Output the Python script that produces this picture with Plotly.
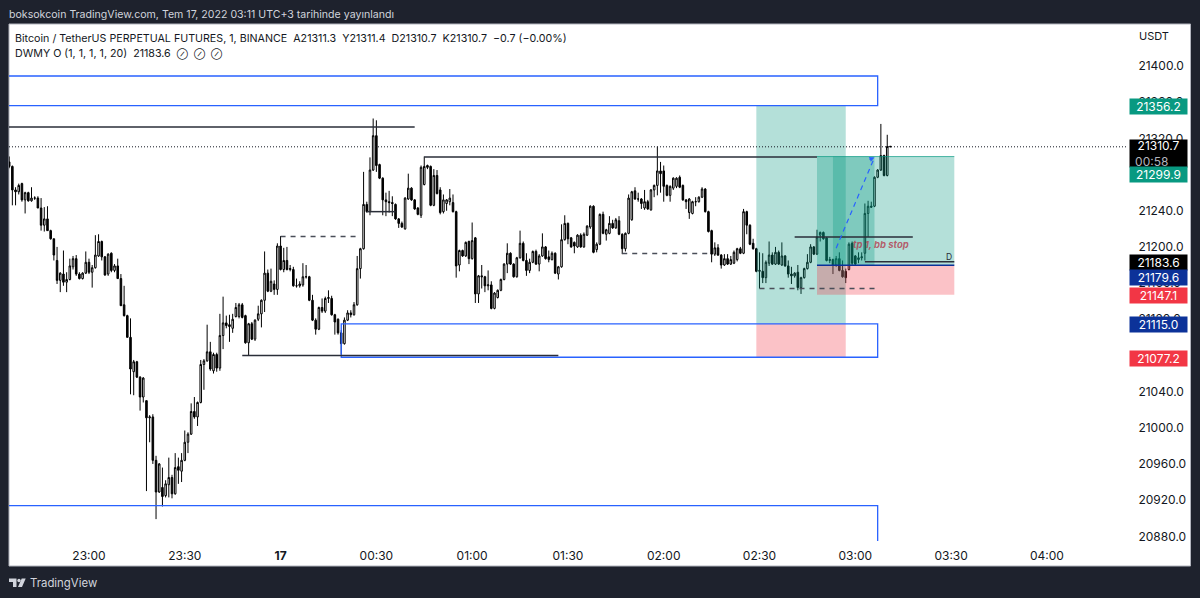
"""BTCUSDT perpetual 1 minute chart with price zones, TradingView look."""
import pandas as pd
import plotly.graph_objects as go

OPEN = [
    21294, 21289, 21263, 21261, 21270, 21252, 21260, 21251, 21254, 21254,
    21243, 21224, 21231, 21218, 21209, 21185, 21163, 21170, 21161, 21164,
    21178, 21187, 21170, 21165, 21171, 21183, 21172, 21177, 21190, 21206,
    21189, 21170, 21193, 21174, 21179, 21165, 21136, 21124, 21100, 21062,
    21073, 21056, 21034, 21030, 21011, 21012, 20964, 20929, 20934, 20925,
    20937, 20945, 20927, 20957, 20952, 20964, 20984, 20993, 21018, 21012,
    21028, 21070, 21074, 21084, 21063, 21081, 21066, 21102, 21116, 21114,
    21110, 21123, 21123, 21136, 21124, 21094, 21115, 21098, 21120, 21126,
    21141, 21171, 21151, 21159, 21153, 21201, 21175, 21185, 21175, 21175,
    21157, 21157, 21158, 21167, 21167, 21141, 21119, 21109, 21133, 21129,
    21143, 21143, 21125, 21120, 21105, 21093, 21119, 21127, 21125, 21136,
    21176, 21198, 21247, 21239, 21285, 21323, 21291, 21276, 21252, 21250,
    21249, 21247, 21231, 21226, 21220, 21253, 21265, 21252, 21243, 21235,
    21269, 21290, 21289, 21246, 21279, 21263, 21239, 21248, 21250, 21249,
    21239, 21180, 21196, 21190, 21206, 21187, 21210, 21148, 21168, 21167,
    21157, 21158, 21132, 21144, 21152, 21164, 21181, 21193, 21181, 21167,
    21188, 21204, 21185, 21174, 21183, 21195, 21181, 21190, 21200, 21189,
    21186, 21193, 21170, 21178, 21208, 21226, 21210, 21205, 21200, 21213,
    21200, 21213, 21222, 21245, 21197, 21203, 21236, 21214, 21215, 21226,
    21221, 21229, 21214, 21198, 21215, 21230, 21262, 21253, 21253, 21243,
    21250, 21241, 21263, 21268, 21284, 21284, 21268, 21257, 21265, 21267,
    21277, 21268, 21252, 21238, 21237, 21250, 21250, 21255, 21264, 21239,
    21218, 21192, 21199, 21191, 21180, 21187, 21181, 21182, 21186, 21198,
    21193, 21239, 21224, 21204, 21198, 21173, 21173, 21166, 21182, 21191,
    21181, 21194, 21180, 21190, 21179, 21170, 21168, 21172, 21155, 21166,
    21176, 21183, 21200, 21192, 21213, 21216, 21210, 21185, 21186, 21180,
    21187, 21174, 21173, 21175, 21204, 21190, 21186, 21188, 21193, 21237,
    21245, 21245, 21277, 21285, 21301, 21279, 21311.3,
]
HIGH = [
    21300, 21290, 21266, 21270, 21271, 21261, 21261, 21266, 21256, 21256,
    21254, 21244, 21245, 21219, 21209, 21200, 21172, 21196, 21172, 21187,
    21190, 21191, 21172, 21172, 21195, 21187, 21180, 21213, 21214, 21207,
    21190, 21193, 21194, 21181, 21187, 21170, 21157, 21125, 21121, 21075,
    21074, 21057, 21056, 21030, 21014, 21015, 20969, 20961, 20956, 20942,
    20967, 20948, 20972, 20967, 20972, 20997, 20995, 21027, 21034, 21029,
    21075, 21076, 21114, 21095, 21083, 21083, 21126, 21145, 21124, 21125,
    21126, 21138, 21138, 21138, 21125, 21116, 21117, 21120, 21135, 21142,
    21195, 21175, 21176, 21163, 21204, 21212, 21199, 21200, 21180, 21178,
    21165, 21162, 21182, 21180, 21168, 21147, 21121, 21134, 21143, 21145,
    21152, 21146, 21126, 21121, 21108, 21122, 21130, 21130, 21139, 21190,
    21199, 21283, 21250, 21299, 21342, 21340, 21292, 21277, 21260, 21262,
    21256, 21248, 21232, 21228, 21255, 21281, 21266, 21253, 21244, 21290,
    21300, 21291, 21290, 21286, 21285, 21266, 21258, 21253, 21264, 21258,
    21240, 21197, 21197, 21206, 21207, 21227, 21211, 21169, 21180, 21168,
    21174, 21162, 21150, 21153, 21165, 21182, 21204, 21194, 21182, 21189,
    21218, 21206, 21193, 21187, 21196, 21197, 21192, 21215, 21201, 21196,
    21195, 21194, 21179, 21225, 21235, 21227, 21211, 21206, 21214, 21215,
    21216, 21224, 21246, 21246, 21205, 21237, 21239, 21220, 21234, 21230,
    21232, 21234, 21215, 21216, 21258, 21262, 21266, 21260, 21254, 21263,
    21252, 21264, 21269, 21311, 21294, 21290, 21269, 21268, 21277, 21277,
    21279, 21269, 21253, 21254, 21251, 21255, 21256, 21266, 21265, 21240,
    21219, 21205, 21203, 21192, 21192, 21192, 21190, 21196, 21199, 21200,
    21242, 21240, 21225, 21209, 21199, 21194, 21193, 21185, 21206, 21194,
    21200, 21196, 21205, 21191, 21185, 21178, 21172, 21180, 21167, 21177,
    21192, 21203, 21201, 21219, 21217, 21217, 21211, 21189, 21187, 21190,
    21194, 21185, 21176, 21205, 21206, 21191, 21194, 21194, 21248, 21251,
    21250, 21278, 21286, 21336, 21302, 21324, 21311.4,
]
LOW = [
    21287, 21246, 21246, 21258, 21250, 21237, 21250, 21250, 21252, 21243,
    21218, 21217, 21218, 21208, 21185, 21159, 21150, 21157, 21150, 21163,
    21175, 21168, 21164, 21164, 21170, 21170, 21155, 21176, 21189, 21185,
    21168, 21168, 21172, 21172, 21165, 21135, 21123, 21100, 21037, 21036,
    21055, 21019, 21028, 20930, 20984, 20960, 20899, 20928, 20913, 20923,
    20923, 20922, 20926, 20938, 20940, 20963, 20972, 20992, 21010, 21002,
    21027, 21042, 21073, 21063, 21060, 21062, 21063, 21087, 21110, 21095,
    21105, 21122, 21121, 21121, 21093, 21080, 21097, 21096, 21118, 21111,
    21128, 21150, 21150, 21147, 21147, 21174, 21172, 21174, 21173, 21156,
    21155, 21155, 21156, 21165, 21140, 21118, 21103, 21108, 21127, 21127,
    21138, 21124, 21103, 21103, 21081, 21092, 21118, 21122, 21124, 21135,
    21165, 21197, 21238, 21235, 21284, 21283, 21275, 21235, 21234, 21238,
    21234, 21230, 21221, 21221, 21219, 21252, 21251, 21241, 21235, 21232,
    21268, 21286, 21245, 21245, 21258, 21236, 21237, 21240, 21246, 21238,
    21166, 21173, 21189, 21189, 21181, 21186, 21138, 21138, 21154, 21150,
    21152, 21131, 21131, 21143, 21151, 21163, 21171, 21180, 21166, 21166,
    21187, 21184, 21168, 21171, 21182, 21180, 21173, 21189, 21186, 21183,
    21185, 21170, 21164, 21177, 21207, 21203, 21199, 21193, 21199, 21199,
    21199, 21212, 21220, 21193, 21194, 21202, 21214, 21207, 21214, 21220,
    21220, 21213, 21192, 21195, 21214, 21229, 21252, 21250, 21242, 21241,
    21241, 21240, 21255, 21257, 21260, 21250, 21256, 21250, 21263, 21265,
    21265, 21251, 21242, 21231, 21236, 21245, 21249, 21254, 21238, 21216,
    21183, 21190, 21190, 21176, 21179, 21180, 21180, 21181, 21184, 21192,
    21192, 21214, 21202, 21197, 21172, 21154, 21160, 21160, 21179, 21180,
    21180, 21180, 21179, 21178, 21166, 21159, 21166, 21152, 21148, 21165,
    21175, 21182, 21191, 21191, 21206, 21208, 21184, 21182, 21170, 21178,
    21173, 21166, 21160, 21174, 21180, 21180, 21182, 21185, 21185, 21211,
    21243, 21244, 21276, 21284, 21278, 21278, 21310.7,
]
CLOSE = [
    21289, 21263, 21261, 21268, 21252, 21260, 21251, 21254, 21254, 21243,
    21224, 21231, 21218, 21209, 21191, 21163, 21171, 21161, 21164, 21179,
    21187, 21170, 21165, 21171, 21183, 21172, 21177, 21191, 21206, 21189,
    21169, 21192, 21174, 21179, 21165, 21135, 21124, 21100, 21065, 21073,
    21056, 21034, 21055, 21011, 21012, 20964, 20929, 20960, 20924, 20938,
    20945, 20927, 20956, 20953, 20964, 20984, 20993, 21018, 21012, 21028,
    21070, 21074, 21084, 21065, 21081, 21066, 21102, 21116, 21113, 21112,
    21120, 21133, 21136, 21122, 21094, 21115, 21098, 21119, 21126, 21141,
    21171, 21151, 21162, 21153, 21201, 21175, 21185, 21175, 21176, 21157,
    21157, 21159, 21167, 21167, 21141, 21119, 21109, 21133, 21129, 21143,
    21144, 21125, 21117, 21105, 21093, 21119, 21127, 21125, 21136, 21176,
    21198, 21247, 21239, 21285, 21323, 21290, 21276, 21252, 21250, 21249,
    21248, 21231, 21226, 21222, 21254, 21265, 21252, 21242, 21236, 21288,
    21289, 21288, 21246, 21279, 21259, 21238, 21252, 21252, 21254, 21239,
    21179, 21196, 21190, 21205, 21187, 21207, 21148, 21168, 21167, 21157,
    21158, 21132, 21149, 21152, 21164, 21181, 21193, 21181, 21167, 21188,
    21204, 21185, 21174, 21183, 21195, 21181, 21190, 21200, 21187, 21186,
    21193, 21171, 21178, 21208, 21226, 21209, 21200, 21201, 21213, 21200,
    21214, 21223, 21245, 21194, 21203, 21236, 21215, 21219, 21226, 21221,
    21230, 21214, 21198, 21215, 21254, 21261, 21253, 21253, 21248, 21250,
    21242, 21263, 21268, 21284, 21281, 21267, 21257, 21267, 21276, 21276,
    21266, 21252, 21250, 21253, 21250, 21250, 21255, 21264, 21239, 21217,
    21192, 21199, 21191, 21180, 21187, 21181, 21186, 21194, 21198, 21193,
    21239, 21224, 21203, 21198, 21173, 21174, 21166, 21183, 21191, 21181,
    21194, 21181, 21190, 21179, 21170, 21168, 21171, 21155, 21166, 21176,
    21183, 21200, 21192, 21211, 21216, 21209, 21185, 21186, 21180, 21187,
    21174, 21167, 21166, 21203, 21182, 21181, 21188, 21189, 21237, 21245,
    21244, 21277, 21285, 21301, 21279, 21311, 21310.7,
]

TICK_TIMES = ["23:00", "23:30", "00:00", "00:30", "01:00", "01:30", "02:00",
              "02:30", "03:00", "03:30", "04:00"]
TICK_TEXT = ["23:00", "23:30", "<b>17</b>", "00:30", "01:00", "01:30", "02:00",
             "02:30", "03:00", "03:30", "04:00"]
PRICE_TICKS = [21400, 21360, 21320, 21280, 21240, 21200, 21160, 21120, 21080,
               21040, 21000, 20960, 20920, 20880]

# drawings: start, end, price, price
BLUE_BOXES = [
    ("22:00", "03:07", 21389, 21356.2),
    ("00:19", "03:07", 21115.0, 21078),
    ("22:00", "03:07", 20914, 20860),
]
GREEN_BOXES = [
    ("02:29", "02:57", 21356.2, 21115.0),
    ("02:48", "03:31", 21299.9, 21179.6),
    ("02:53", "03:06", 21299.9, 21179.6),
]
RED_BOXES = [
    ("02:29", "02:57", 21115.0, 21077.2),
    ("02:48", "03:31", 21179.6, 21147.1),
]
SOLID_LINES = [
    ("22:00", "00:42", 21332.5),
    ("00:45", "02:48", 21299.3),
    ("00:27", "00:36", 21239),
    ("23:48", "01:27", 21080),
    ("02:41", "03:18", 21211),
    ("03:03", "03:31", 21183.6),
]
DASHED_LINES = [
    ("00:00", "00:25", 21211.5),
    ("01:47", "02:15", 21192.8),
    ("02:30", "03:07", 21154),
]
PRICE_TAGS = [
    ("21356.2", 106, "#089981"),
    ("21299.9", 174.5, "#089981"),
    ("21183.6", 262.5, "#000000"),
    ("21179.6", 277.5, "#0c3299"),
    ("21147.1", 295.5, "#f23645"),
    ("21115.0", 324.5, "#0c3299"),
    ("21077.2", 358.5, "#f23645"),
]

# plot area in page pixels
W, H = 1200, 598
LEFT, RIGHT, TOP, BOTTOM = 9, 1128, 24, 541
FONT = "Inter, 'Liberation Sans', sans-serif"
DARK = "#1e222d"
INK = "#131722"
OFF = "<span style='font-size:8px'>⊘</span>"


def px(x):
    return (x - LEFT) / (RIGHT - LEFT)


def py(y):
    return (BOTTOM - y) / (BOTTOM - TOP)


def when(hhmm):
    day = "2022-07-16" if hhmm >= "22:00" else "2022-07-17"
    return f"{day} {hhmm}"


def page_text(text, x, y, size=10.7, color=INK, **kw):
    return dict(text=text, xref="paper", yref="paper", x=px(x), y=py(y),
                xanchor="left", yanchor="middle", showarrow=False, borderpad=0,
                font=dict(family=FONT, size=size, color=color), **kw)


times = pd.date_range("2022-07-16 22:35", periods=len(CLOSE), freq="min")

fig = go.Figure(go.Candlestick(
    x=times, open=OPEN, high=HIGH, low=LOW, close=CLOSE,
    increasing=dict(line=dict(color="#000000", width=1), fillcolor="#ffffff"),
    decreasing=dict(line=dict(color="#000000", width=1), fillcolor="#000000"),
    whiskerwidth=0, hoverinfo="skip",
))

shapes = [
    # white chart panel on the dark page
    dict(type="rect", layer="below", xref="paper", yref="paper",
         x0=px(LEFT), x1=px(1190.5), y0=py(566), y1=py(TOP),
         fillcolor="#ffffff", line=dict(color="#b2b5be", width=1)),
]
for start, end, top, bottom in GREEN_BOXES:
    shapes.append(dict(type="rect", x0=when(start), x1=when(end), y0=bottom, y1=top,
                       fillcolor="rgba(8,153,129,0.3)", line_width=0, layer="above"))
for start, end, top, bottom in RED_BOXES:
    shapes.append(dict(type="rect", x0=when(start), x1=when(end), y0=bottom, y1=top,
                       fillcolor="rgba(242,54,69,0.3)", line_width=0, layer="above"))
for start, end, top, bottom in BLUE_BOXES:
    shapes.append(dict(type="rect", x0=when(start), x1=when(end), y0=bottom, y1=top,
                       line=dict(color="#2962ff", width=1.3), layer="above"))
for start, end, price in SOLID_LINES:
    shapes.append(dict(type="line", x0=when(start), x1=when(end), y0=price, y1=price,
                       line=dict(color="#2a2e39", width=1.5), layer="above"))
for start, end, price in DASHED_LINES:
    shapes.append(dict(type="line", x0=when(start), x1=when(end), y0=price, y1=price,
                       line=dict(color="#4a4e59", width=1.5, dash="5px,5px"), layer="above"))
shapes += [
    # top and bottom edges of the second position
    dict(type="line", x0=when("02:48"), x1=when("03:31"), y0=21299.9, y1=21299.9,
         line=dict(color="rgba(8,153,129,0.7)", width=1), layer="above"),
    dict(type="line", x0=when("02:48"), x1=when("03:31"), y0=21179.6, y1=21179.6,
         line=dict(color="#0c3299", width=1.5), layer="above"),
    # last price
    dict(type="line", xref="paper", x0=0, x1=1, y0=CLOSE[-1], y1=CLOSE[-1],
         line=dict(color="#131722", width=1, dash="1px,2px"), layer="above"),
    # projection line
    dict(type="line", x0=when("02:54"), x1=when("03:06"), y0=21198.6, y1=21299,
         line=dict(color="#2962ff", width=1.2, dash="5px,4px"), layer="above"),
    # TradingView logo
    dict(type="path", xref="paper", yref="paper", line_width=0, fillcolor="#d1d4dc",
         path=f"M{px(9)},{py(578.5)} L{px(16.5)},{py(578.5)} L{px(16.5)},{py(587)} "
              f"L{px(13)},{py(587)} L{px(13)},{py(582)} L{px(9)},{py(582)} Z "
              f"M{px(21.7)},{py(578.5)} L{px(25.7)},{py(578.5)} L{px(22)},{py(587)} "
              f"L{px(18)},{py(587)} Z"),
    dict(type="circle", xref="paper", yref="paper", line_width=0, fillcolor="#d1d4dc",
         x0=px(17.3), x1=px(20.7), y0=py(582.2), y1=py(578.8)),
]

annotations = [
    page_text("boksokcoin TradingView.com, Tem 17, 2022 03:11 UTC+3 tarihinde yayınlandı",
              8, 14, size=10.6, color="#d1d4dc"),
    page_text("Bitcoin / TetherUS PERPETUAL FUTURES, 1, BINANCE&nbsp;&nbsp;A21311.3&nbsp;&nbsp;"
              "Y21311.4&nbsp;&nbsp;D21310.7&nbsp;&nbsp;K21310.7&nbsp;&nbsp;−0.7 (−0.00%)", 14, 38),
    page_text(f"DWMY O (1, 1, 1, 1, 20)&nbsp;&nbsp;21183.6&nbsp;&nbsp;{OFF}&nbsp;&nbsp;{OFF}&nbsp;&nbsp;{OFF}",
              14, 53),
    page_text("USDT", 1138, 36, size=11),
    page_text("TradingView", 29, 583, size=11.4, color="#d1d4dc"),
    # position label and pivot letter sit on the price scale of the chart
    dict(text="<b><i>tp 1, bb stop</i></b>", x=when("03:08"), y=21203, showarrow=False,
         font=dict(family=FONT, size=9.5, color="rgba(178,50,70,0.75)")),
    dict(text="D", x=when("03:31"), y=21189, xanchor="right", showarrow=False,
         font=dict(family=FONT, size=8.5, color="#2a2e39")),
    # arrow tip of the projection line
    dict(text="", x=when("03:06"), y=21299, ax=when("03:04"), ay=21296,
         axref="x", ayref="y", showarrow=True, arrowhead=2, arrowsize=1,
         arrowwidth=1, arrowcolor="#2962ff"),
    # price tag of the last bar with the countdown below it
    dict(text="21310.7<br><span style='color:#b2b5be'>00:58&nbsp;&nbsp;&nbsp;&nbsp;</span>",
         xref="paper", yref="paper", x=px(1129), y=py(153.5), xanchor="left", yanchor="middle",
         width=57, height=27, bgcolor="#000000", showarrow=False, borderpad=0,
         font=dict(family=FONT, size=12, color="#ffffff")),
]
for text, y, colour in PRICE_TAGS:
    annotations.append(dict(text=text, xref="paper", yref="paper", x=px(1129), y=py(y),
                            xanchor="left", yanchor="middle", width=57, height=15,
                            bgcolor=colour, showarrow=False, borderpad=0,
                            font=dict(family=FONT, size=12, color="#ffffff")))

fig.update_layout(
    width=W, height=H, autosize=False,
    margin=dict(l=LEFT, r=W - RIGHT, t=TOP, b=H - BOTTOM, pad=0),
    paper_bgcolor=DARK, plot_bgcolor="#ffffff",
    showlegend=False, hovermode=False,
    font=dict(family=FONT, size=12, color=INK),
    shapes=shapes, annotations=annotations,
    xaxis=dict(
        rangeslider=dict(visible=False),
        range=["2022-07-16 22:34:57", "2022-07-17 04:25:24"],
        tickmode="array", tickvals=[when(t) for t in TICK_TIMES], ticktext=TICK_TEXT,
        ticks="outside", ticklen=4, tickcolor="rgba(0,0,0,0)",
        showgrid=False, zeroline=False, showline=False,
        tickfont=dict(family=FONT, size=12, color=INK),
    ),
    yaxis=dict(
        side="right",
        range=[20874.8, 21446.5],
        tickmode="array", tickvals=PRICE_TICKS, tickformat=".1f",
        ticks="outside", ticklen=7, tickcolor="rgba(0,0,0,0)",
        showgrid=False, zeroline=False, showline=False,
        tickfont=dict(family=FONT, size=12, color=INK),
    ),
)

fig.write_html("out.html", config=dict(displayModeBar=False),
               post_script="document.body.style.margin='0';")
